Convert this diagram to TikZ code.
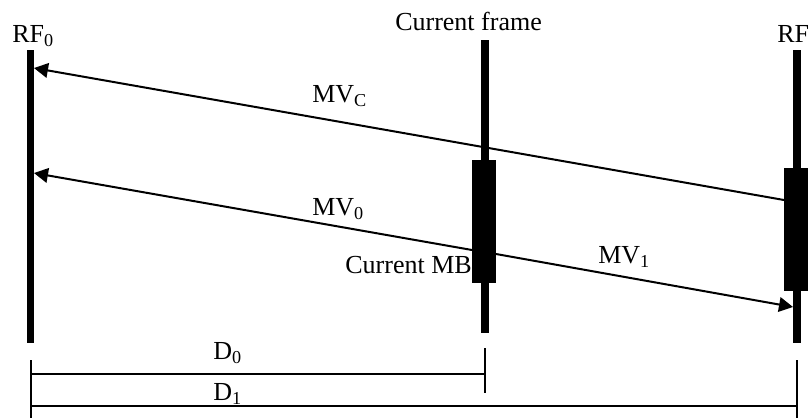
\documentclass[tikz,border=0pt]{standalone}
\usepackage{fontspec}
\setmainfont{Liberation Serif}
\usetikzlibrary{arrows.meta}
\begin{document}
\begin{tikzpicture}[x=0.75pt,y=-0.75pt,
  lbl/.style={anchor=base,inner sep=0pt,font=\fontsize{19.5}{23}\selectfont},
  framebar/.style={fill=black},
  mv/.style={line width=1.5pt,-{Triangle[length=10.5pt,width=11pt]}},
  dim/.style={line width=1.5pt}]
\useasboundingbox (0,0) rectangle (811,418);

% frame bars and macroblocks
\fill[framebar] (27,50) rectangle (34,343);
\fill[framebar] (481,40) rectangle (489,333);
\fill[framebar] (472,160) rectangle (496,283);
\fill[framebar] (793,50) rectangle (801,343);
\fill[framebar] (784,168) rectangle (808,291);

% arrow end points
\coordinate (rf0a) at (34,68);
\coordinate (rf0b) at (34,173);
\coordinate (rf1a) at (784,200);
\coordinate (rf1b) at (793,307);
\coordinate (mbl) at (472,250);
\coordinate (mbr) at (496,254);

% labels
\node[lbl,anchor=base west] (trf0) at (12,42) {RF\textsubscript{0}};
\node[lbl,anchor=base west] (trf1) at (777,42) {RF};
\node[lbl,anchor=base west] (tcur) at (395,30) {Current frame};
\node[lbl,anchor=base west] (tmvc) at (312,102) {MV\textsubscript{C}};
\node[lbl,anchor=base west] (tmv0) at (312,215) {MV\textsubscript{0}};
\node[lbl,anchor=base west] (tmv1) at (598,263) {MV\textsubscript{1}};
\node[lbl,anchor=base east] (tmb) at (472,273) {Current MB};
\node[lbl,anchor=base west] (td0) at (213,359) {D\textsubscript{0}};
\node[lbl,anchor=base west] (td1) at (213,400) {D\textsubscript{1}};

% motion vectors
\draw[mv] (rf1a) -- (rf0a);
\draw[mv] (mbl) -- (rf0b);
\draw[mv] (mbr) -- (rf1b);

% distance markers
\coordinate (t0a) at (31,360); \coordinate (t0b) at (31,418);
\coordinate (t1a) at (485,348); \coordinate (t1b) at (485,393);
\coordinate (t2a) at (797,360); \coordinate (t2b) at (797,418);
\coordinate (d0a) at (31,374); \coordinate (d0b) at (485,374);
\coordinate (d1a) at (31,406); \coordinate (d1b) at (797,406);
\draw[dim] (t0a) -- (t0b);
\draw[dim] (t1a) -- (t1b);
\draw[dim] (t2a) -- (t2b);
\draw[dim] (d0a) -- (d0b);
\draw[dim] (d1a) -- (d1b);
\end{tikzpicture}
\end{document}
